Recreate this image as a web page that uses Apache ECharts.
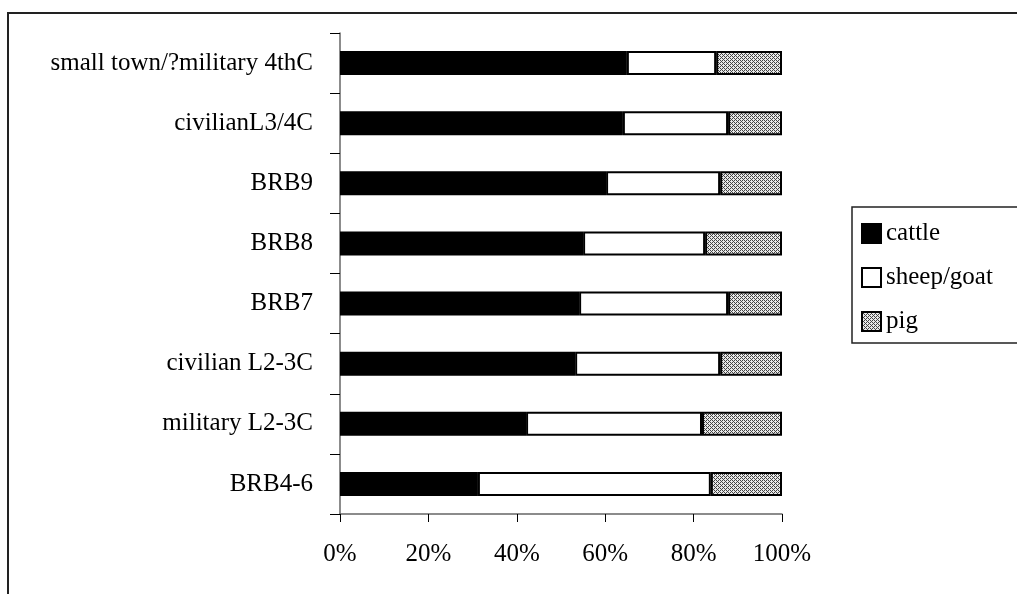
<!DOCTYPE html>
<html>
<head>
<meta charset="utf-8">
<script src="https://cdn.jsdelivr.net/npm/echarts@6/dist/echarts.min.js"></script>
<style>
  html, body { margin: 0; padding: 0; background: #fff; }
  #chart { width: 1017px; height: 594px; }
</style>
</head>
<body>
<div id="chart"></div>
<script>
// Site groups, listed bottom to top as the category axis draws them
const categories = [
  'BRB4-6',
  'military L2-3C',
  'civilian L2-3C',
  'BRB7',
  'BRB8',
  'BRB9',
  'civilianL3/4C',
  'small town/?military 4thC'
];

// Percentage of identified bones per taxon
const cattle    = [31.2, 42.1, 53.2, 54.1, 55.0, 60.2, 64.0, 64.9];
const sheepGoat = [52.7, 39.8, 32.8, 33.7, 27.6, 25.8, 23.8, 20.2];
const pig       = [16.1, 18.1, 14.0, 12.2, 17.4, 14.0, 12.2, 14.9];

const xTicks = [0, 20, 40, 60, 80, 100];

// Fine diagonal hatch used for the pig segments
function hatch() {
  const c = document.createElement('canvas');
  c.width = 4; c.height = 4;
  const ctx = c.getContext('2d');
  ctx.fillStyle = '#e8e8e8';
  ctx.fillRect(0, 0, 4, 4);
  ctx.fillStyle = '#444';
  for (let y = 0; y < 4; y++) {
    for (let x = 0; x < 4; x++) {
      if ((x - y + 4) % 4 === 0 || ((x + y) % 2 === 0 && y % 2 === 0)) {
        ctx.fillRect(x, y, 1, 1);
      }
    }
  }
  return c;
}

const font = 'Liberation Serif';
const chart = echarts.init(document.getElementById('chart'), null, { renderer: 'canvas' });

const barBase = {
  type: 'bar',
  stack: 'total',
  barWidth: 24,
  emphasis: { disabled: true }
};

chart.setOption({
  animation: false,
  backgroundColor: '#fff',
  textStyle: { fontFamily: font },
  grid: { left: 340, right: 235, top: 33, bottom: 80 },
  xAxis: {
    type: 'value',
    min: 0, max: 100, interval: 20,
    splitLine: { show: false },
    axisLine: { show: true, lineStyle: { color: '#666', width: 1.5 } },
    axisTick: { show: true, length: 8, lineStyle: { color: '#000' } },
    axisLabel: {
      margin: 28,
      color: '#000',
      fontFamily: font,
      fontSize: 25,
      formatter: v => (xTicks.includes(v) ? v + '%' : '')
    }
  },
  yAxis: {
    type: 'category',
    data: categories,
    axisLine: { show: true, lineStyle: { color: '#666', width: 1.5 } },
    axisTick: { show: true, length: 10, lineStyle: { color: '#000' } },
    axisLabel: { margin: 27, color: '#000', fontFamily: font, fontSize: 25 }
  },
  legend: {
    orient: 'vertical',
    left: 861,
    top: 221,
    icon: 'rect',
    itemWidth: 19,
    itemHeight: 19,
    itemGap: 19,
    padding: 0,
    selectedMode: false,
    textStyle: { color: '#000', fontFamily: font, fontSize: 25 },
    data: ['cattle', 'sheep/goat', 'pig']
  },
  graphic: [
    {
      type: 'rect',
      shape: { x: 8, y: 13, width: 1100, height: 700 },
      style: { fill: 'none', stroke: '#222', lineWidth: 2 },
      silent: true
    },
    {
      type: 'rect',
      shape: { x: 852, y: 207, width: 200, height: 136 },
      style: { fill: 'none', stroke: '#222', lineWidth: 1.5 },
      silent: true
    }
  ],
  series: [
    Object.assign({}, barBase, {
      name: 'cattle',
      data: cattle,
      itemStyle: { color: '#000', borderColor: '#000', borderWidth: 1.5 }
    }),
    Object.assign({}, barBase, {
      name: 'sheep/goat',
      data: sheepGoat,
      itemStyle: { color: '#fff', borderColor: '#000', borderWidth: 2 }
    }),
    Object.assign({}, barBase, {
      name: 'pig',
      data: pig,
      itemStyle: { color: { image: hatch(), repeat: 'repeat' }, borderColor: '#000', borderWidth: 2 }
    })
  ]
});
</script>
</body>
</html>
